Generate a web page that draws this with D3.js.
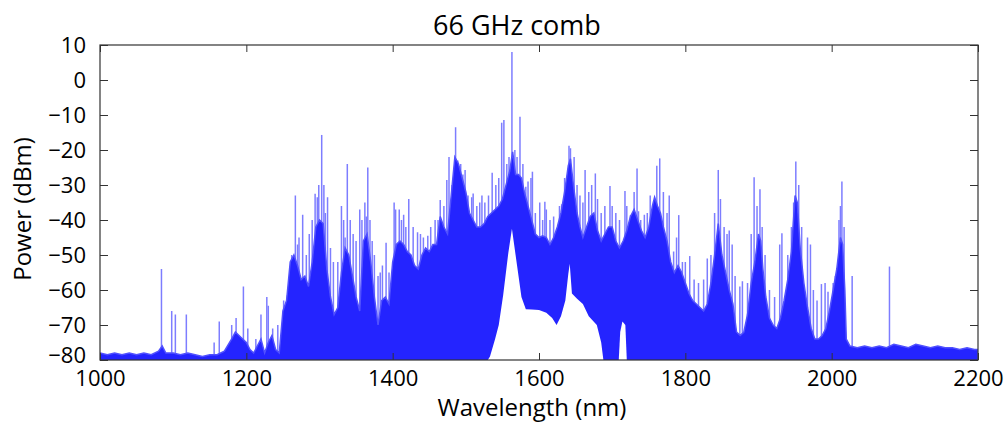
<!DOCTYPE html>
<html>
<head>
<meta charset="utf-8">
<script src="https://cdn.jsdelivr.net/npm/d3@7"></script>
<style>
  body { margin: 0; background: #fff; }
  text { font-family: "Open Sans", Lato, sans-serif; fill: #000; }
</style>
</head>
<body>
<script>
// upper edge of the dense comb fill (nm, dBm)
var envWl = [1000, 1010, 1020, 1030, 1040, 1050, 1060, 1070, 1080, 1085, 1090, 1100, 1110, 1120, 1130, 1140, 1150, 1160, 1170,
  1180, 1185, 1190, 1195, 1200, 1205, 1210, 1215, 1220, 1225, 1230, 1235, 1240, 1245, 1250, 1255, 1260, 1265, 1270, 1275,
  1280, 1285, 1290, 1295, 1300, 1305, 1310, 1315, 1320, 1325, 1330, 1335, 1340, 1345, 1350, 1355, 1360, 1365, 1370, 1375,
  1380, 1385, 1390, 1395, 1400, 1405, 1410, 1415, 1420, 1425, 1430, 1435, 1440, 1445, 1450, 1455, 1460, 1465, 1470, 1475,
  1480, 1485, 1490, 1495, 1500, 1505, 1510, 1515, 1520, 1525, 1530, 1535, 1540, 1545, 1550, 1555, 1560, 1564, 1568, 1572,
  1576, 1580, 1585, 1590, 1595, 1600, 1605, 1610, 1615, 1620, 1625, 1630, 1635, 1640, 1643, 1647, 1652, 1656, 1660, 1665,
  1670, 1675, 1680, 1685, 1690, 1695, 1700, 1705, 1710, 1715, 1720, 1725, 1730, 1735, 1740, 1745, 1750, 1755, 1758, 1762,
  1766, 1770, 1775, 1780, 1785, 1790, 1795, 1800, 1805, 1810, 1815, 1820, 1825, 1830, 1835, 1840, 1845, 1850, 1855, 1860,
  1865, 1870, 1875, 1880, 1885, 1890, 1895, 1900, 1903, 1906, 1910, 1915, 1920, 1925, 1930, 1935, 1940, 1945, 1950, 1953,
  1957, 1962, 1967, 1972, 1977, 1982, 1987, 1992, 1997, 2002, 2007, 2012, 2015, 2018, 2020, 2025, 2035, 2045, 2055, 2065,
  2075, 2085, 2095, 2105, 2115, 2125, 2135, 2145, 2155, 2165, 2175, 2185, 2195, 2200];
var envPow = [-78, -78.5, -78, -78.5, -78, -78.5, -78, -78.5, -77.5, -76, -78, -78, -78.5, -78, -78.5, -79, -78.5, -78.5, -77.5,
  -74, -72, -73, -74, -75, -77, -78, -76, -74, -78, -75, -73, -77, -78, -66, -63, -52, -50, -53, -57,
  -56, -59, -52, -42, -40, -41, -54, -62, -67, -65, -55, -48, -50, -56, -62, -66, -46, -44, -52, -62,
  -70, -63, -62, -64, -52, -47, -46, -47, -49, -50, -53, -54, -50, -48, -49, -47, -47, -39, -42, -44,
  -33, -22, -24, -28, -32, -38, -40, -42, -42, -41, -39, -38, -37, -36, -34, -30, -26, -20.5, -27, -27,
  -28, -32, -36, -40, -44, -45, -44.5, -45, -47, -45, -42, -38, -32, -24.5, -22.5, -30, -38, -42, -45, -42,
  -39, -38, -43, -46, -44, -42, -42, -46, -48, -46, -43, -39, -37, -40, -43, -45, -42, -36, -33.5, -36,
  -38, -42, -46, -52, -55, -53, -55, -58, -61, -63, -64, -65, -66, -64, -58, -50, -41, -50, -55, -60,
  -64, -72, -73, -72, -67, -58, -52, -44, -46, -54, -62, -68, -70, -71, -68, -63, -57, -49, -33, -35,
  -48, -58, -65, -71, -74, -74, -73, -71, -66, -60, -54, -45, -47, -60, -74, -76, -76.5, -76, -76.5, -76,
  -76.5, -75.5, -76, -76.5, -75.5, -76, -76.5, -76, -76.5, -76.5, -77, -76.5, -77, -77];

// white gaps under the fill (nm, dBm of the gap top)
var holeWl = [1530, 1533, 1540, 1545, 1551, 1558, 1563, 1566, 1570, 1576, 1582, 1590, 1600, 1610, 1618, 1624, 1630, 1636,
  1640, 1642, 1645, 1652, 1660, 1668, 1679, 1685, 1688];
var holePow = [-80, -79, -74, -70, -61.5, -49.5, -42.5, -47, -53, -62, -65.5, -65.6, -65.7, -66.5, -68, -70, -67.5, -63,
  -55.5, -52.5, -61, -62.5, -64, -67.5, -70, -75, -80];
var notchWl = [1709, 1711, 1714, 1718, 1720];
var notchPow = [-80, -72, -69, -70, -80];

// single comb lines standing above the fill
var spikeWl = [1084, 1098, 1103, 1118, 1156, 1163, 1180, 1186, 1196, 1202, 1213, 1220, 1228, 1230, 1236, 1243, 1251, 1256,
  1262, 1267, 1270, 1272, 1277, 1282, 1286, 1290, 1294, 1297, 1299, 1303, 1306, 1308, 1311, 1315, 1319, 1325, 1330, 1333,
  1335, 1338, 1342, 1346, 1350, 1355, 1358, 1362, 1364, 1366, 1369, 1372, 1375, 1380, 1383, 1386, 1391, 1395,
  1402, 1404, 1409, 1412, 1415, 1418, 1422, 1428, 1434, 1438, 1442, 1448, 1452, 1458, 1462, 1465, 1470, 1474, 1477, 1481,
  1486, 1489, 1493, 1496, 1499, 1503, 1508, 1510, 1515, 1519, 1522, 1526, 1531, 1536, 1541, 1545,
  1549, 1552, 1556, 1559, 1563, 1567, 1570, 1574, 1578, 1582, 1585, 1589, 1591, 1595, 1601, 1605, 1608, 1610, 1615, 1620,
  1628, 1631, 1635, 1641, 1643, 1648, 1652, 1656, 1660, 1663, 1668, 1672, 1677, 1680, 1685, 1690, 1697, 1700,
  1705, 1710, 1717.5, 1720, 1725, 1730, 1734, 1736, 1739, 1744, 1748, 1752, 1761, 1765, 1770, 1775, 1778, 1784, 1788,
  1791, 1796, 1800, 1806, 1812, 1818, 1825, 1830, 1835, 1840, 1845, 1848, 1853, 1857, 1860,
  1864, 1868, 1874.5, 1878, 1885, 1890, 1894, 1898, 1902, 1905, 1909, 1915, 1922, 1929, 1932, 1940, 1945, 1948, 1951,
  1955, 1959, 1967, 1971, 1975, 1980, 1986, 1991, 1995, 2002, 2005, 2007, 2010, 2012, 2014, 2017, 2028, 2079];
var spikePow = [-54, -66, -67, -67, -75, -69, -70, -68, -59, -71, -74, -67, -62, -64.5, -71, -70, -63, -61.5,
  -50, -33, -47, -45, -38.5, -50, -44, -40, -32.5, -33.5, -30, -15.7, -30, -38, -33.5, -48, -52, -52, -36, -40,
  -45, -24, -40, -44, -46, -37, -40, -35, -39, -25, -40, -46, -50, -56, -55, -53, -46.5, -55,
  -35, -37, -37, -40, -38.5, -42, -34, -42, -43.5, -44, -45, -44.5, -42, -40, -40, -34.3, -36, -28.6, -22, -30,
  -13.5, -23, -24, -27, -25.7, -33, -33.5, -32.4, -36, -35, -33, -35, -33, -26.5, -30, -28,
  -12.2, -11.4, -24, -22, 8, -20, -22, -10.5, -24, -30.5, -29, -28, -26.2, -38, -35, -40, -34.8, -37, -40, -39,
  -36, -35.5, -28, -18.8, -19.5, -22, -30, -33, -35, -25.7, -32, -30, -26.7, -34, -38, -36, -30.3, -36,
  -38, -40, -31.7, -36, -38.6, -32, -25.3, -37.5, -40, -38.5, -38, -33, -24.5, -22.4, -32, -38, -33, -49, -45,
  -38.6, -52, -52, -50.3, -57, -58, -57, -51, -50, -38, -25.7, -34, -42, -44, -43,
  -47, -56, -59, -57.5, -58, -44, -27.8, -36, -31.2, -42, -50, -60, -62, -47, -43.8, -50, -42, -35, -23.3,
  -30, -42, -45, -47, -60, -63, -58.3, -58, -60.5, -58, -56, -54, -40, -36, -29, -42, -56, -53.3];

var xTicks = [1000, 1200, 1400, 1600, 1800, 2000, 2200];
var yTicks = [10, 0, -10, -20, -30, -40, -50, -60, -70, -80];

var margin = {top: 45, right: 29, bottom: 62, left: 100},
    width = 1007 - margin.left - margin.right,
    height = 422 - margin.top - margin.bottom;

var svg = d3.select("body")
    .append("svg")
    .attr("width", 1007)
    .attr("height", 422);

var g = svg.append("g")
    .attr("transform", "translate(" + margin.left + "," + margin.top + ")");

var x = d3.scaleLinear().domain([1000, 2200]).range([0, width]);
var y = d3.scaleLinear().domain([-80, 10]).range([height, 0]);

var blue = "#2424ff";

g.append("defs").append("clipPath").attr("id", "clip")
    .append("rect").attr("width", width).attr("height", height);

var plot = g.append("g").attr("clip-path", "url(#clip)");

// comb lines first, fill covers their feet
plot.append("g")
    .selectAll("line")
    .data(spikeWl)
    .enter()
        .append("line")
        .attr("x1", function(d) { return x(d); })
        .attr("x2", function(d) { return x(d); })
        .attr("y1", y(-80))
        .attr("y2", function(d, i) { return y(spikePow[i]); })
        .attr("stroke", "#7d7dff")
        .attr("stroke-width", 1.5);

var env = envWl.map(function(d, i) { return [d, envPow[i]]; });

plot.append("path")
    .datum(env)
    .attr("fill", blue)
    .attr("stroke", "#5050ff")
    .attr("stroke-width", 1.5)
    .attr("d", d3.area()
        .x(function(d) { return x(d[0]); })
        .y0(y(-80) + 2)
        .y1(function(d) { return y(d[1]); }));

function gap(wl, pw) {
    plot.append("path")
        .datum(wl.map(function(d, i) { return [d, pw[i]]; }))
        .attr("fill", "#fff")
        .attr("d", d3.area()
            .x(function(d) { return x(d[0]); })
            .y0(y(-80) + 3)
            .y1(function(d) { return y(d[1]); }));
}
gap(holeWl, holePow);
gap(notchWl, notchPow);

// axes, ticks inside on all four sides
var fs = "22px";

var xAxis = g.append("g")
    .attr("transform", "translate(0," + height + ")")
    .call(d3.axisBottom(x).tickValues(xTicks).tickFormat(d3.format("d"))
        .tickSizeInner(-7).tickSizeOuter(0).tickPadding(10));
xAxis.selectAll("text").style("font-size", fs);

var yAxis = g.append("g")
    .call(d3.axisLeft(y).tickValues(yTicks).tickSizeInner(-8).tickSizeOuter(0).tickPadding(14));
yAxis.selectAll("text").style("font-size", fs)
    .attr("dy", function(d) { return d == -80 ? "0.1em" : "0.32em"; });

g.append("g")
    .call(d3.axisTop(x).tickValues(xTicks).tickSizeInner(-7).tickSizeOuter(0).tickFormat(""));
g.append("g")
    .attr("transform", "translate(" + width + ",0)")
    .call(d3.axisRight(y).tickValues(yTicks).tickSizeInner(-8).tickSizeOuter(0).tickFormat(""));

g.selectAll(".domain").remove();
g.selectAll(".tick line").attr("stroke", "#333");

g.append("rect")
    .attr("width", width)
    .attr("height", height)
    .attr("fill", "none")
    .attr("stroke", "#333")
    .attr("stroke-width", 1.2);

svg.append("text")
    .attr("x", margin.left + width / 2 - 22)
    .attr("y", 35)
    .attr("text-anchor", "middle")
    .style("font-size", "27px")
    .text("66 GHz comb");

svg.append("text")
    .attr("x", margin.left + width / 2 - 7)
    .attr("y", 416)
    .attr("text-anchor", "middle")
    .style("font-size", "24px")
    .text("Wavelength (nm)");

svg.append("text")
    .attr("transform", "translate(31,209) rotate(-90)")
    .attr("text-anchor", "middle")
    .style("font-size", "24px")
    .text("Power (dBm)");
</script>
</body>
</html>
